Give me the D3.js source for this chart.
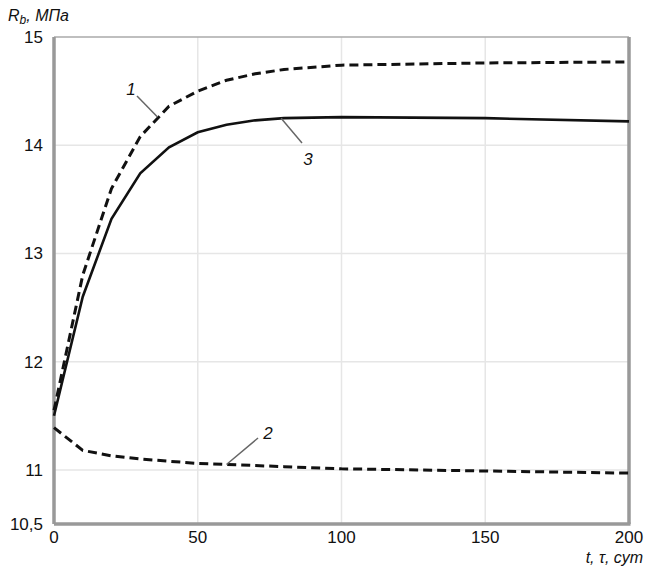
<!DOCTYPE html>
<html>
<head>
<meta charset="utf-8">
<script src="https://cdn.jsdelivr.net/npm/d3@7"></script>
<style>
  body { margin: 0; background: #fff; }
  text { font-family: "Liberation Sans", Arial, sans-serif; fill: #111; }
</style>
</head>
<body>
<div id="chart"></div>
<script>
(function(d3) {
  'use strict';

  // days
  var days = [0, 10, 20, 30, 40, 50, 60, 70, 80, 100, 150, 200];
  // curve 1 (dashed, upper)
  var curve1 = [11.55, 12.8, 13.6, 14.08, 14.36, 14.5, 14.6, 14.66, 14.7, 14.74, 14.76, 14.77];
  // curve 2 (dashed, lower)
  var curve2 = [11.39, 11.18, 11.13, 11.10, 11.08, 11.06, 11.05, 11.04, 11.03, 11.01, 10.99, 10.97];
  // curve 3 (solid)
  var curve3 = [11.5, 12.6, 13.32, 13.74, 13.98, 14.12, 14.19, 14.23, 14.25, 14.26, 14.25, 14.22];

  var yTicks = [10.5, 11, 12, 13, 14, 15];
  var yTickLabels = ['10,5', '11', '12', '13', '14', '15'];
  var xTicks = [0, 50, 100, 150, 200];

  var width = 646, height = 572;
  var margin = { top: 37, right: 17, bottom: 48, left: 54 };
  var w = width - margin.left - margin.right;
  var h = height - margin.top - margin.bottom;

  var x = d3.scaleLinear().domain([0, 200]).range([0, w]);
  var y = d3.scaleLinear().domain([10.5, 15]).range([h, 0]);

  var svg = d3.select('#chart').append('svg')
    .attr('width', width).attr('height', height);
  var g = svg.append('g')
    .attr('transform', 'translate(' + margin.left + ',' + margin.top + ')');

  // grid
  g.selectAll('.hgrid').data(yTicks.slice(1, -1)).enter().append('line')
    .attr('x1', 0).attr('x2', w)
    .attr('y1', function(d) { return y(d); }).attr('y2', function(d) { return y(d); })
    .attr('stroke', '#e6e6e6').attr('stroke-width', 1.5);
  g.selectAll('.vgrid').data(xTicks.slice(1, -1)).enter().append('line')
    .attr('y1', 0).attr('y2', h)
    .attr('x1', function(d) { return x(d); }).attr('x2', function(d) { return x(d); })
    .attr('stroke', '#e6e6e6').attr('stroke-width', 1.5);

  // frame
  g.append('line').attr('x1', 0).attr('x2', w).attr('y1', 0).attr('y2', 0)
    .attr('stroke', '#aaa').attr('stroke-width', 1.5);
  g.append('line').attr('x1', 0).attr('x2', 0).attr('y1', 0).attr('y2', h)
    .attr('stroke', '#999').attr('stroke-width', 3.5);
  g.append('line').attr('x1', w).attr('x2', w).attr('y1', 0).attr('y2', h)
    .attr('stroke', '#999').attr('stroke-width', 3.5);
  g.append('line').attr('x1', 0).attr('x2', w + 1.5).attr('y1', h).attr('y2', h)
    .attr('stroke', '#999').attr('stroke-width', 3.5);

  // tick labels
  g.selectAll('.ylab').data(yTicks).enter().append('text')
    .attr('x', -11).attr('y', function(d) { return y(d) + 6; })
    .attr('text-anchor', 'end').style('font-size', '17px')
    .text(function(d, i) { return yTickLabels[i]; });
  g.selectAll('.xlab').data(xTicks).enter().append('text')
    .attr('x', function(d) { return x(d); }).attr('y', h + 19)
    .attr('text-anchor', 'middle').style('font-size', '17px')
    .text(function(d) { return d; });

  // axis titles
  var yt = svg.append('text').attr('x', 8).attr('y', 21)
    .style('font-size', '16px').style('font-style', 'italic');
  yt.append('tspan').text('R');
  yt.append('tspan').attr('dy', 3).style('font-size', '12px').text('b');
  yt.append('tspan').attr('dy', -3).text(', МПа');

  svg.append('text').attr('x', 643).attr('y', 563)
    .attr('text-anchor', 'end').style('font-size', '16px').style('font-style', 'italic')
    .text('t, τ, сут');

  // curves
  var line = d3.line()
    .x(function(d) { return x(d[0]); })
    .y(function(d) { return y(d[1]); });

  function pts(vals) { return days.map(function(t, i) { return [t, vals[i]]; }); }

  g.append('path').datum(pts(curve1)).attr('d', line)
    .attr('fill', 'none').attr('stroke', '#111').attr('stroke-width', 3)
    .attr('stroke-dasharray', '9,5');
  g.append('path').datum(pts(curve2)).attr('d', line)
    .attr('fill', 'none').attr('stroke', '#111').attr('stroke-width', 3)
    .attr('stroke-dasharray', '9,5');
  g.append('path').datum(pts(curve3)).attr('d', line)
    .attr('fill', 'none').attr('stroke', '#111').attr('stroke-width', 2.6);

  // curve labels with leader lines
  var labels = [
    { text: '1', lx: 131, ly: 95, x1: 137, y1: 96, t: 36, v: 14.26 },
    { text: '2', lx: 268, ly: 439, x1: 258, y1: 438, t: 60, v: 11.05 },
    { text: '3', lx: 308, ly: 165, x1: 302, y1: 143, t: 79, v: 14.25 }
  ];
  labels.forEach(function(d) {
    svg.append('line')
      .attr('x1', d.x1).attr('y1', d.y1)
      .attr('x2', margin.left + x(d.t)).attr('y2', margin.top + y(d.v))
      .attr('stroke', '#666').attr('stroke-width', 1.5);
    svg.append('text').attr('x', d.lx).attr('y', d.ly)
      .attr('text-anchor', 'middle').style('font-size', '17px').style('font-style', 'italic')
      .text(d.text);
  });

})(window.d3);
</script>
</body>
</html>
